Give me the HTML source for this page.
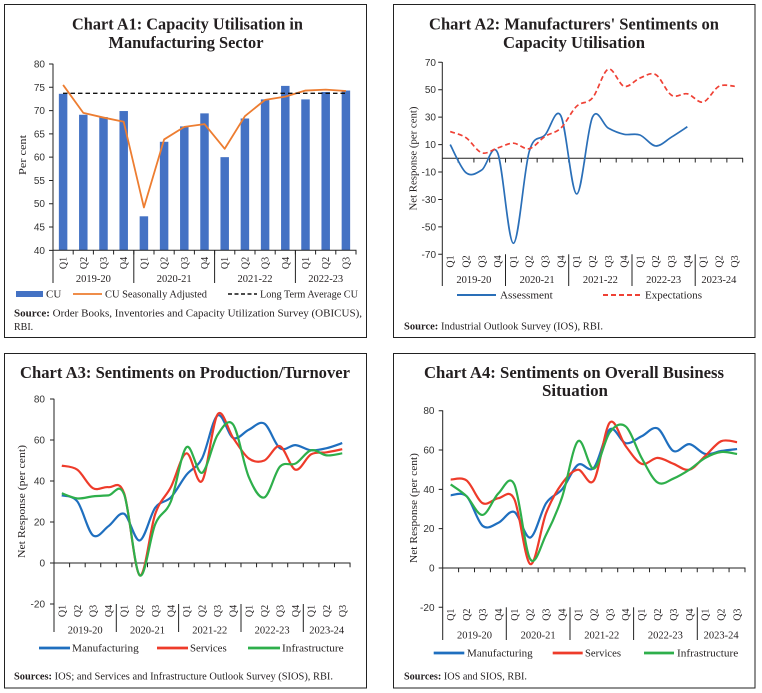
<!DOCTYPE html>
<html><head><meta charset="utf-8"><style>
html,body{margin:0;padding:0;background:#fff;}
svg{display:block;}
.t{font-family:"Liberation Serif",serif;font-weight:bold;font-size:17px;fill:#231f20;}
.n{font-family:"Liberation Sans",sans-serif;font-size:10px;fill:#333;}
.s{font-family:"Liberation Serif",serif;font-size:10px;fill:#231f20;}
.lg{font-family:"Liberation Serif",serif;font-size:11px;fill:#231f20;}
.yr{font-family:"Liberation Serif",serif;font-size:10.5px;fill:#231f20;}
</style></head><body>
<svg id="sv" width="762" height="693" viewBox="0 0 762 693" xmlns="http://www.w3.org/2000/svg">
<rect width="762" height="693" fill="#fff"/>
<!-- panel borders -->
<g fill="none" stroke="#222" stroke-width="1">
<rect x="4.5" y="4.5" width="362" height="333"/>
<rect x="393.5" y="4.5" width="361.5" height="333"/>
<rect x="4.5" y="353.5" width="362" height="334.5"/>
<rect x="393.5" y="353.5" width="361.5" height="334.5"/>
</g>

<!-- ================= A1 ================= -->
<text class="t" x="187.5" y="29.5" text-anchor="middle" textLength="231" lengthAdjust="spacingAndGlyphs">Chart A1: Capacity Utilisation in</text>
<text class="t" x="186" y="48" text-anchor="middle" textLength="155" lengthAdjust="spacingAndGlyphs">Manufacturing Sector</text>
<g transform="translate(63.1,250.3) scale(20.2,-4.6575)" fill="#4472c4">
<rect x="-0.21" y="0" width="0.42" height="33.6"/>
<rect x="0.79" y="0" width="0.42" height="29.1"/>
<rect x="1.79" y="0" width="0.42" height="28.6"/>
<rect x="2.79" y="0" width="0.42" height="29.9"/>
<rect x="3.79" y="0" width="0.42" height="7.3"/>
<rect x="4.79" y="0" width="0.42" height="23.3"/>
<rect x="5.79" y="0" width="0.42" height="26.6"/>
<rect x="6.79" y="0" width="0.42" height="29.4"/>
<rect x="7.79" y="0" width="0.42" height="20.0"/>
<rect x="8.79" y="0" width="0.42" height="28.3"/>
<rect x="9.79" y="0" width="0.42" height="32.4"/>
<rect x="10.79" y="0" width="0.42" height="35.3"/>
<rect x="11.79" y="0" width="0.42" height="32.4"/>
<rect x="12.79" y="0" width="0.42" height="34.0"/>
<rect x="13.79" y="0" width="0.42" height="34.3"/>
<polyline fill="none" stroke="#ed7d31" stroke-width="1.8" vector-effect="non-scaling-stroke" stroke-linejoin="round" points="0,35.5 1,29.5 2,28.5 3,27.6 4,9.2 5,23.8 6,26.5 7,27.1 8,21.8 9,28.8 10,32.3 11,33 12,34.3 13,34.5 14,34.2"/>
</g>
<line x1="63" y1="93.3" x2="347" y2="93.3" stroke="#111" stroke-width="1.4" stroke-dasharray="4.5 3"/>
<g stroke="#222" stroke-width="1" fill="none">
<line x1="53" y1="63.8" x2="53" y2="283"/>
<line x1="53" y1="250.3" x2="356.5" y2="250.3"/>
<line x1="133.8" y1="250.3" x2="133.8" y2="283"/>
<line x1="214.6" y1="250.3" x2="214.6" y2="283"/>
<line x1="295.4" y1="250.3" x2="295.4" y2="283"/>
</g>
<line x1="72.7" y1="252.4" x2="357" y2="252.4" stroke="#222" stroke-width="4.2" stroke-dasharray="1 19.2"/>
<line x1="51" y1="63.5" x2="51" y2="251.5" stroke="#222" stroke-width="4" stroke-dasharray="1 22.29"/>
<g class="n" text-anchor="end">
<text x="45" y="67.5">80</text><text x="45" y="90.8">75</text><text x="45" y="114.1">70</text>
<text x="45" y="137.4">65</text><text x="45" y="160.7">60</text><text x="45" y="183.9">55</text>
<text x="45" y="207.2">50</text><text x="45" y="230.5">45</text><text x="45" y="253.8">40</text>
</g>
<g class="s" text-anchor="middle" transform="translate(0,263) rotate(-90)">
<text x="0" y="66.6">Q1</text><text x="0" y="86.8">Q2</text><text x="0" y="107">Q3</text><text x="0" y="127.2">Q4</text>
<text x="0" y="147.4">Q1</text><text x="0" y="167.6">Q2</text><text x="0" y="187.8">Q3</text><text x="0" y="208">Q4</text>
<text x="0" y="228.2">Q1</text><text x="0" y="248.4">Q2</text><text x="0" y="268.6">Q3</text><text x="0" y="288.8">Q4</text>
<text x="0" y="309">Q1</text><text x="0" y="329.2">Q2</text><text x="0" y="349.4">Q3</text>
</g>
<g class="yr" text-anchor="middle">
<text x="93.4" y="282">2019-20</text><text x="174.2" y="282">2020-21</text>
<text x="255" y="282">2021-22</text><text x="325.7" y="282">2022-23</text>
</g>
<text class="lg" transform="translate(26,155) rotate(-90)" text-anchor="middle" textLength="40" lengthAdjust="spacingAndGlyphs">Per cent</text>
<rect x="16" y="291" width="27" height="6" fill="#4472c4"/>
<text class="lg" x="46" y="297.5">CU</text>
<line x1="73" y1="294" x2="102" y2="294" stroke="#ed7d31" stroke-width="1.8"/>
<text class="lg" x="105" y="297.5" textLength="102" lengthAdjust="spacingAndGlyphs">CU Seasonally Adjusted</text>
<line x1="228" y1="294" x2="257" y2="294" stroke="#111" stroke-width="1.5" stroke-dasharray="4 2.5"/>
<text class="lg" x="260" y="297.5" textLength="98" lengthAdjust="spacingAndGlyphs">Long Term Average CU</text>
<text class="s" x="14" y="316.5" textLength="348" lengthAdjust="spacingAndGlyphs"><tspan font-weight="bold">Source:</tspan> Order Books, Inventories and Capacity Utilization Survey (OBICUS),</text>
<text class="s" x="14" y="330">RBI.</text>

<!-- ================= A2 ================= -->
<text class="t" x="574" y="29.5" text-anchor="middle" textLength="290" lengthAdjust="spacingAndGlyphs">Chart A2: Manufacturers' Sentiments on</text>
<text class="t" x="574" y="48" text-anchor="middle" textLength="142" lengthAdjust="spacingAndGlyphs">Capacity Utilisation</text>
<g stroke="#222" stroke-width="1" fill="none">
<line x1="442.3" y1="62" x2="442.3" y2="286"/>
<line x1="442.3" y1="158.3" x2="743" y2="158.3"/>
<line x1="505.5" y1="254.3" x2="505.5" y2="286"/>
<line x1="568.7" y1="254.3" x2="568.7" y2="286"/>
<line x1="632" y1="254.3" x2="632" y2="286"/>
<line x1="695.2" y1="254.3" x2="695.2" y2="286"/>
</g>
<line x1="457.6" y1="160.4" x2="743.5" y2="160.4" stroke="#222" stroke-width="4.2" stroke-dasharray="1 14.81"/>
<line x1="440.2" y1="61.8" x2="440.2" y2="255.5" stroke="#222" stroke-width="4" stroke-dasharray="1 26.43"/>
<g class="n" text-anchor="end">
<text x="436" y="65.8">70</text><text x="436" y="93.2">50</text><text x="436" y="120.7">30</text>
<text x="436" y="148.1">10</text><text x="436" y="175.5">-10</text><text x="436" y="202.9">-30</text>
<text x="436" y="230.4">-50</text><text x="436" y="257.8">-70</text>
</g>
<g class="s" text-anchor="middle" transform="translate(0,261.5) rotate(-90)">
<text x="0" y="453.7">Q1</text><text x="0" y="469.5">Q2</text><text x="0" y="485.3">Q3</text><text x="0" y="501.1">Q4</text>
<text x="0" y="516.9">Q1</text><text x="0" y="532.7">Q2</text><text x="0" y="548.5">Q3</text><text x="0" y="564.3">Q4</text>
<text x="0" y="580.1">Q1</text><text x="0" y="596">Q2</text><text x="0" y="611.8">Q3</text><text x="0" y="627.6">Q4</text>
<text x="0" y="643.4">Q1</text><text x="0" y="659.2">Q2</text><text x="0" y="675">Q3</text><text x="0" y="690.8">Q4</text>
<text x="0" y="706.6">Q1</text><text x="0" y="722.4">Q2</text><text x="0" y="738.2">Q3</text>
</g>
<g class="yr" text-anchor="middle">
<text x="473.9" y="283">2019-20</text><text x="537.1" y="283">2020-21</text>
<text x="600.4" y="283">2021-22</text><text x="663.6" y="283">2022-23</text><text x="718.9" y="283">2023-24</text>
</g>
<text class="lg" transform="translate(416.5,158.5) rotate(-90)" text-anchor="middle" textLength="104" lengthAdjust="spacingAndGlyphs">Net Response (per cent)</text>
<g id="g2" transform="translate(450.2,158.3) scale(15.81,-1.3714)">
<polyline class="sm" fill="none" stroke="#2a6fb8" stroke-width="1.7" vector-effect="non-scaling-stroke" points="0,10 1,-10.5 2,-8.5 3,4 4,-62 5,5 6,17 7,31 8,-26 9,30 10,22 11,17.5 12,17 13,9 14,15.5 15,23"/>
<polyline class="sm" fill="none" stroke="#ef4135" stroke-width="1.7" stroke-dasharray="5 3" vector-effect="non-scaling-stroke" points="0,19.5 1,15 2,4 3,7.5 4,11 5,7 6,16 7,22 8,38 9,44 10,65 11,52.5 12,58.5 13,61 14,46 15,47 16,41 17,52.5 18,52.5"/>
</g>
<line x1="457" y1="295" x2="496" y2="295" stroke="#2a6fb8" stroke-width="2"/>
<text class="lg" x="500" y="298.5" textLength="52.7" lengthAdjust="spacingAndGlyphs">Assessment</text>
<line x1="603" y1="295" x2="641" y2="295" stroke="#ef4135" stroke-width="2" stroke-dasharray="5 3"/>
<text class="lg" x="645" y="298.5" textLength="57" lengthAdjust="spacingAndGlyphs">Expectations</text>
<text class="s" x="404" y="329.5" textLength="199" lengthAdjust="spacingAndGlyphs"><tspan font-weight="bold">Source:</tspan> Industrial Outlook Survey (IOS), RBI.</text>

<!-- ================= A3 ================= -->
<text class="t" x="185" y="378" text-anchor="middle" textLength="330" lengthAdjust="spacingAndGlyphs">Chart A3: Sentiments on Production/Turnover</text>
<g stroke="#222" stroke-width="1" fill="none">
<line x1="54" y1="398.7" x2="54" y2="632"/>
<line x1="54" y1="563" x2="350.5" y2="563"/>
<line x1="116.3" y1="604" x2="116.3" y2="632"/>
<line x1="178.6" y1="604" x2="178.6" y2="632"/>
<line x1="241" y1="604" x2="241" y2="632"/>
<line x1="303.3" y1="604" x2="303.3" y2="632"/>
</g>
<line x1="69.1" y1="565.1" x2="351" y2="565.1" stroke="#222" stroke-width="4.2" stroke-dasharray="1 14.58"/>
<line x1="52" y1="398.5" x2="52" y2="605.5" stroke="#222" stroke-width="4" stroke-dasharray="1 40"/>
<g class="n" text-anchor="end">
<text x="45" y="402.5">80</text><text x="45" y="443.5">60</text><text x="45" y="484.5">40</text>
<text x="45" y="525.5">20</text><text x="45" y="566.5">0</text><text x="45" y="607.5">-20</text>
</g>
<g class="s" text-anchor="middle" transform="translate(0,611) rotate(-90)">
<text x="0" y="65.3">Q1</text><text x="0" y="80.9">Q2</text><text x="0" y="96.5">Q3</text><text x="0" y="112">Q4</text>
<text x="0" y="127.6">Q1</text><text x="0" y="143.2">Q2</text><text x="0" y="158.8">Q3</text><text x="0" y="174.4">Q4</text>
<text x="0" y="190">Q1</text><text x="0" y="205.5">Q2</text><text x="0" y="221.1">Q3</text><text x="0" y="236.7">Q4</text>
<text x="0" y="252.3">Q1</text><text x="0" y="267.9">Q2</text><text x="0" y="283.5">Q3</text><text x="0" y="299">Q4</text>
<text x="0" y="314.6">Q1</text><text x="0" y="330.2">Q2</text><text x="0" y="345.8">Q3</text>
</g>
<g class="yr" text-anchor="middle">
<text x="85.2" y="633.5">2019-20</text><text x="147.5" y="633.5">2020-21</text>
<text x="209.8" y="633.5">2021-22</text><text x="272.1" y="633.5">2022-23</text><text x="326.7" y="633.5">2023-24</text>
</g>
<text class="lg" transform="translate(25,501.5) rotate(-90)" text-anchor="middle" textLength="113" lengthAdjust="spacingAndGlyphs">Net Response (per cent)</text>
<g id="g3" transform="translate(61.8,563) scale(15.58,-2.05)">
<polyline class="sm" fill="none" stroke="#1f6fbf" stroke-width="2.2" vector-effect="non-scaling-stroke" points="0,33 1,30 2,13.5 3,18 4,24 5,11 6,27 7,32 8,43 9,51 10,72 11,61 12,65 13,68 14,56 15,57.5 16,55 17,56 18,58.5"/>
<polyline class="sm" fill="none" stroke="#ee3b2a" stroke-width="2.2" vector-effect="non-scaling-stroke" points="0,47.5 1,45.5 2,36.5 3,37 4,34 5,-6 6,24 7,37 8,53.5 9,40 10,72.5 11,61 12,51 13,50 14,57 15,45.5 16,53 17,54 18,55.5"/>
<polyline class="sm" fill="none" stroke="#2eaf4b" stroke-width="2.2" vector-effect="non-scaling-stroke" points="0,34 1,31.5 2,32.5 3,33 4,33.5 5,-6 6,19 7,30 8,56.5 9,44 10,62.5 11,67.5 12,42 13,32 14,47 15,48.5 16,55 17,52.5 18,53.5"/>
</g>
<line x1="39" y1="648" x2="70" y2="648" stroke="#1f6fbf" stroke-width="2.8"/>
<text class="lg" x="72" y="651.5" textLength="66.7" lengthAdjust="spacingAndGlyphs">Manufacturing</text>
<line x1="157" y1="648" x2="188" y2="648" stroke="#ee3b2a" stroke-width="2.8"/>
<text class="lg" x="190" y="651.5" textLength="36.7" lengthAdjust="spacingAndGlyphs">Services</text>
<line x1="248" y1="648" x2="280" y2="648" stroke="#2eaf4b" stroke-width="2.8"/>
<text class="lg" x="282" y="651.5" textLength="61.7" lengthAdjust="spacingAndGlyphs">Infrastructure</text>
<text class="s" x="14" y="679.5" textLength="319" lengthAdjust="spacingAndGlyphs"><tspan font-weight="bold">Sources:</tspan> IOS; and Services and Infrastructure Outlook Survey (SIOS), RBI.</text>

<!-- ================= A4 ================= -->
<text class="t" x="574" y="378" text-anchor="middle" textLength="300" lengthAdjust="spacingAndGlyphs">Chart A4: Sentiments on Overall Business</text>
<text class="t" x="575" y="396" text-anchor="middle" textLength="66" lengthAdjust="spacingAndGlyphs">Situation</text>
<g stroke="#222" stroke-width="1" fill="none">
<line x1="442.7" y1="410.4" x2="442.7" y2="640"/>
<line x1="442.7" y1="568" x2="745.5" y2="568"/>
<line x1="506.3" y1="607.3" x2="506.3" y2="640"/>
<line x1="570" y1="607.3" x2="570" y2="640"/>
<line x1="633.6" y1="607.3" x2="633.6" y2="640"/>
<line x1="697.3" y1="607.3" x2="697.3" y2="640"/>
</g>
<line x1="458.1" y1="570.1" x2="746" y2="570.1" stroke="#222" stroke-width="4.2" stroke-dasharray="1 14.91"/>
<line x1="440.7" y1="410.2" x2="440.7" y2="609" stroke="#222" stroke-width="4" stroke-dasharray="1 38.32"/>
<g class="n" text-anchor="end">
<text x="434.5" y="414.2">80</text><text x="434.5" y="453.5">60</text><text x="434.5" y="492.9">40</text>
<text x="434.5" y="532.2">20</text><text x="434.5" y="571.5">0</text><text x="434.5" y="610.8">-20</text>
</g>
<g class="s" text-anchor="middle" transform="translate(0,614.7) rotate(-90)">
<text x="0" y="454.2">Q1</text><text x="0" y="470.1">Q2</text><text x="0" y="486">Q3</text><text x="0" y="501.9">Q4</text>
<text x="0" y="517.8">Q1</text><text x="0" y="533.7">Q2</text><text x="0" y="549.6">Q3</text><text x="0" y="565.5">Q4</text>
<text x="0" y="581.4">Q1</text><text x="0" y="597.4">Q2</text><text x="0" y="613.3">Q3</text><text x="0" y="629.2">Q4</text>
<text x="0" y="645.1">Q1</text><text x="0" y="661">Q2</text><text x="0" y="676.9">Q3</text><text x="0" y="692.8">Q4</text>
<text x="0" y="708.7">Q1</text><text x="0" y="724.6">Q2</text><text x="0" y="740.5">Q3</text>
</g>
<g class="yr" text-anchor="middle">
<text x="474.5" y="638.5">2019-20</text><text x="538.1" y="638.5">2020-21</text>
<text x="601.8" y="638.5">2021-22</text><text x="665.4" y="638.5">2022-23</text><text x="721.1" y="638.5">2023-24</text>
</g>
<text class="lg" transform="translate(417,508) rotate(-90)" text-anchor="middle" textLength="110" lengthAdjust="spacingAndGlyphs">Net Response (per cent)</text>
<g id="g4" transform="translate(450.7,568) scale(15.91,-1.966)">
<polyline class="sm" fill="none" stroke="#1f6fbf" stroke-width="2.2" vector-effect="non-scaling-stroke" points="0,37 1,36.5 2,21.5 3,23 4,28.5 5,15.5 6,33 7,40 8,52.5 9,51 10,70.5 11,63.5 12,67 13,71 14,59.5 15,63 16,58 17,59.5 18,60.5"/>
<polyline class="sm" fill="none" stroke="#ee3b2a" stroke-width="2.2" vector-effect="non-scaling-stroke" points="0,45 1,44.5 2,33 3,35.5 4,35 5,2 6,28 7,43 8,50 9,44.5 10,74 11,62 12,53 13,56 14,53 15,50 16,57 17,64.5 18,64"/>
<polyline class="sm" fill="none" stroke="#2eaf4b" stroke-width="2.2" vector-effect="non-scaling-stroke" points="0,42.5 1,36.5 2,27 3,38 4,42.5 5,4.5 6,17 7,36 8,64.5 9,50.5 10,69 11,72 12,56 13,43.5 14,45.5 15,50 16,56 17,59 18,58"/>
</g>
<line x1="433.7" y1="653" x2="464.3" y2="653" stroke="#1f6fbf" stroke-width="2.8"/>
<text class="lg" x="467" y="656.5" textLength="65.7" lengthAdjust="spacingAndGlyphs">Manufacturing</text>
<line x1="552.7" y1="653" x2="582.7" y2="653" stroke="#ee3b2a" stroke-width="2.8"/>
<text class="lg" x="585" y="656.5" textLength="36" lengthAdjust="spacingAndGlyphs">Services</text>
<line x1="644" y1="653" x2="674" y2="653" stroke="#2eaf4b" stroke-width="2.8"/>
<text class="lg" x="677" y="656.5" textLength="61.3" lengthAdjust="spacingAndGlyphs">Infrastructure</text>
<text class="s" x="404" y="679.5" textLength="123" lengthAdjust="spacingAndGlyphs"><tspan font-weight="bold">Sources:</tspan> IOS and SIOS, RBI.</text>
</svg>
<script>
(function(){
  var NS='http://www.w3.org/2000/svg';
  var pls=document.querySelectorAll('polyline.sm');
  for(var k=0;k<pls.length;k++){
    var pl=pls[k];
    var m=pl.getCTM();
    if(!m) continue;
    var raw=pl.getAttribute('points').trim().split(/\s+/);
    var pts=raw.map(function(s){var a=s.split(',').map(Number);return [m.a*a[0]+m.c*a[1]+m.e, m.b*a[0]+m.d*a[1]+m.f];});
    var f=function(p){return p[0].toFixed(2)+','+p[1].toFixed(2);};
    var d='M'+f(pts[0]);
    for(var i=0;i<pts.length-1;i++){
      var p0=pts[Math.max(i-1,0)],p1=pts[i],p2=pts[i+1],p3=pts[Math.min(i+2,pts.length-1)];
      var c1=[p1[0]+(p2[0]-p0[0])/6,p1[1]+(p2[1]-p0[1])/6];
      var c2=[p2[0]-(p3[0]-p1[0])/6,p2[1]-(p3[1]-p1[1])/6];
      d+=' C'+f(c1)+' '+f(c2)+' '+f(p2);
    }
    var path=document.createElementNS(NS,'path');
    path.setAttribute('d',d);
    path.setAttribute('fill','none');
    path.setAttribute('stroke',pl.getAttribute('stroke'));
    path.setAttribute('stroke-width',pl.getAttribute('stroke-width'));
    path.setAttribute('stroke-linejoin','round');
    var da=pl.getAttribute('stroke-dasharray');
    if(da) path.setAttribute('stroke-dasharray',da);
    var g=pl.parentNode;
    g.parentNode.insertBefore(path,g);
    pl.parentNode.removeChild(pl);
  }
})();
</script>
</body></html>
